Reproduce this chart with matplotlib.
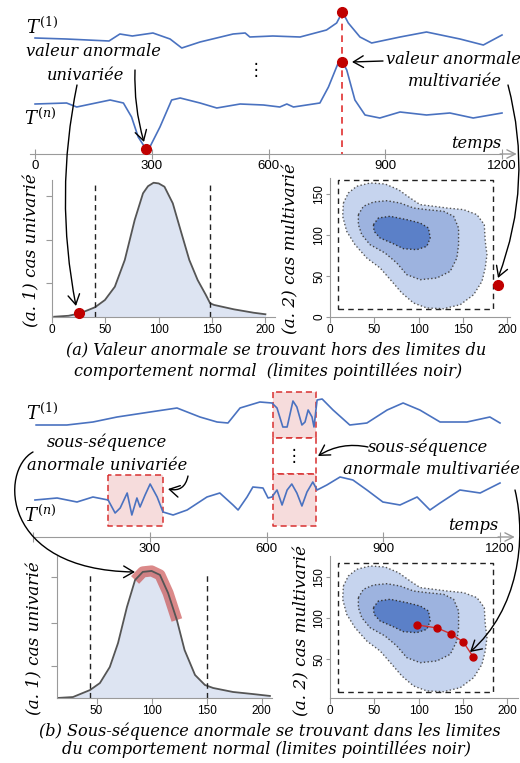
import matplotlib.pyplot as plt
from matplotlib.patches import FancyArrowPatch
from matplotlib.path import Path

W, H = 520, 763

# ---------------- (a) time series ----------------
t1_a_t = [0, 80, 190, 218, 250, 303, 347, 377, 424, 509, 540, 552, 611, 681, 749, 775, 790,
          805, 835, 865, 938, 1006, 1092, 1152, 1200]
t1_a_v = [11.6, 11.5, 11.3, 12.0, 11.8, 12.1, 11.5, 10.6, 11.2, 12.0, 12.1, 11.7, 11.8, 11.7,
          12.4, 13.1, 14.2, 13.1, 11.7, 11.1, 11.7, 12.2, 11.5, 10.9, 11.9]
tn_a_t = [0, 81, 107, 193, 227, 248, 265, 285, 295, 321, 351, 373, 424, 467, 527, 587, 629, 647,
          664, 732, 754, 779, 790, 801, 822, 848, 886, 938, 1006, 1066, 1126, 1200]
tn_a_v = [5.0, 5.1, 4.7, 5.4, 5.1, 3.7, 1.7, 0.5, 0.7, 2.7, 5.4, 5.6, 5.1, 4.6, 5.0, 4.9, 4.7,
          5.0, 4.7, 5.1, 6.7, 9.1, 9.2, 8.4, 5.4, 3.9, 3.6, 4.2, 3.9, 4.1, 3.6, 4.1]
uni_anom_t, uni_anom_v = 285, 0.5
multi_anom_t = 790
multi_anom_v = [14.2, 9.2]

time_ticks = [0, 300, 600, 900, 1200]
time_labels_a = ['0', '300', '600', '900', '1200']
time_labels_b = ['', '300', '600', '900', '1200']

# ---------------- (a) density ----------------
dens_a_x = [2, 15.5, 26.3, 40.3, 49.6, 58.9, 68.2, 77.5, 85.3, 90, 95.2, 100, 105.4, 113.2,
            120.9, 128.7, 136.5, 144.2, 148.2, 151.9, 170.5, 189.1, 200]
dens_a_y = [0.002, 0.009, 0.027, 0.071, 0.124, 0.221, 0.416, 0.708, 0.903, 0.955, 0.980, 0.975,
            0.951, 0.830, 0.623, 0.416, 0.270, 0.161, 0.100, 0.088, 0.056, 0.031, 0.020]
limits_a = [40, 148]
outlier_uni = (25, 0.03)

# contour levels (same in both multivariate panels)
outer_x = [15.1, 20.7, 30.1, 45.2, 62.1, 77.2, 90.4, 101.7, 116.8, 131.8, 150.7, 165.7, 174,
           175.1, 177, 175.1, 171.4, 162, 146.9, 128.1, 109.2, 94.2, 81, 69.7, 56.5, 41.4,
           28.2, 18.8, 14.3]
outer_y = [139, 151.2, 159.4, 163.4, 162.2, 155.3, 145.1, 137, 135, 132.9, 130.9, 124.8,
           112.6, 92.3, 76, 59.8, 43.5, 27.2, 15, 10.1, 11, 17.1, 29.3, 43.5, 59.8, 72,
           88.2, 104.5, 122.8]
mid_x = [32, 37.7, 49, 64, 79.1, 94.2, 109.2, 128.1, 139.4, 145, 145, 143.1, 135.6, 120.5,
         101.7, 86.6, 75.3, 62.1, 45.2, 35.8, 32]
mid_y = [124.8, 135, 140.2, 141.8, 139, 132.9, 130.9, 128.9, 122.8, 108.5, 88.2, 72, 55.7,
         47.6, 45.5, 51.6, 65.9, 78, 88.2, 100.4, 112.6]
inner_x = [49, 54.6, 67.8, 86.6, 101.7, 111.1, 113, 109.2, 97.9, 82.9, 69.7, 56.5, 49.7]
inner_y = [112.6, 120.7, 122.8, 118.7, 114.6, 108.5, 96.3, 86.2, 82.1, 83.3, 90.2, 96.3, 104.5]
normal_box_x = [9.4, 183.4]
normal_box_y = [10.1, 167.4]
outlier_multi = (190, 39)

# ---------------- (b) time series ----------------
t1_b_t = [8, 87, 154, 216, 301, 370, 429, 473, 501, 532, 583, 614, 627, 642, 653, 668, 678,
          691, 699, 707, 717, 722, 730, 743, 771, 814, 858, 910, 951, 994, 1046, 1115, 1174, 1200]
t1_b_v = [11.2, 11.2, 11.5, 12.0, 12.5, 12.9, 12.0, 11.5, 11.4, 12.9, 13.5, 13.4, 12.9, 11.0,
          11.0, 13.6, 13.0, 11.2, 11.5, 12.7, 12.0, 11.0, 13.7, 13.8, 12.7, 11.2, 11.4, 12.7,
          13.4, 12.7, 11.5, 11.5, 12.0, 11.4]
tn_b_t = [5, 62, 113, 154, 193, 211, 224, 242, 254, 267, 275, 288, 301, 319, 334, 360, 396,
          447, 480, 514, 527, 550, 565, 591, 604, 614, 627, 640, 653, 665, 678, 691, 704, 719,
          730, 755, 789, 822, 858, 899, 943, 987, 1020, 1046, 1097, 1149, 1200]
tn_b_v = [3.7, 3.9, 3.5, 4.0, 3.7, 2.4, 2.9, 4.4, 2.2, 3.9, 3.0, 4.2, 5.3, 4.0, 2.5, 2.2, 2.7,
          4.0, 4.4, 3.2, 2.7, 4.0, 5.0, 4.9, 3.9, 4.0, 4.7, 3.2, 4.7, 5.3, 4.4, 3.1, 4.5, 5.5,
          4.7, 5.2, 6.0, 5.7, 4.7, 3.5, 3.2, 4.0, 2.7, 3.4, 4.7, 4.4, 5.4]
uni_box_t = [193, 334]
uni_box_v = [1.1, 6.2]
multi_box_t = [617, 727]
multi_box_rows = [(9.9, 14.5), (6.3, 9.9), (1.1, 6.3)]

dens_b_x = [14, 28.5, 44, 53, 62, 69.5, 77.6, 85, 92, 100, 107.6, 115, 123, 130, 139.5,
            148.5, 156, 174, 192, 207.6]
dens_b_y = [0.0, 0.007, 0.058, 0.109, 0.226, 0.401, 0.664, 0.861, 0.920, 0.927, 0.898,
            0.766, 0.569, 0.350, 0.168, 0.095, 0.073, 0.044, 0.029, 0.015]
limits_b = [44, 150]
band_from, band_to = 7, 13

traj_x = [98.3, 120.9, 136.7, 150.3, 161.6]
traj_y = [91.5, 87.8, 80.5, 70.7, 52.4]

BLUE = '#4a72c0'
RED = '#c00000'
GRID = '#9a9a9a'
SERIF = 'DejaVu Serif'
TICKFONT = 'Liberation Sans'


def box(x0, y0, x1, y1):
    return [x0 / W, 1 - y1 / H, (x1 - x0) / W, (y1 - y0) / H]


fig = plt.figure(figsize=(W / 100, H / 100), dpi=100)
plt.rcParams['mathtext.fontset'] = 'dejavuserif'


def time_axes(rect, xlim, labels):
    ax = fig.add_axes(rect)
    ax.set_xlim(*xlim)
    ax.set_ylim(0, 15.4)
    for s in ['top', 'left', 'right']:
        ax.spines[s].set_visible(False)
    ax.spines['bottom'].set_color(GRID)
    ax.patch.set_alpha(0)
    ax.set_yticks([])
    ax.set_xticks(time_ticks, labels)
    ax.tick_params(axis='x', direction='inout', length=7, color=GRID, labelsize=9.5, pad=1)
    for lab in ax.get_xticklabels():
        lab.set_fontfamily(TICKFONT)
    ax.annotate('', xy=(1238, 0), xytext=(1195, 0), annotation_clip=False,
                arrowprops=dict(arrowstyle='->, head_length=0.6, head_width=0.3',
                                color=GRID, lw=1, shrinkA=0, shrinkB=0))
    return ax


def density_axes(rect, xlim, ylim, xticks, yticks):
    ax = fig.add_axes(rect)
    ax.set_xlim(*xlim)
    ax.set_ylim(*ylim)
    for s in ['top', 'right']:
        ax.spines[s].set_visible(False)
    for s in ['left', 'bottom']:
        ax.spines[s].set_color(GRID)
    ax.patch.set_alpha(0)
    ax.set_xticks(xticks)
    ax.set_yticks(yticks, [''] * len(yticks))
    ax.tick_params(length=4, color=GRID, labelsize=8.5, pad=1)
    for lab in ax.get_xticklabels():
        lab.set_fontfamily(TICKFONT)
    return ax


def contour_axes(rect, xlim, ylim, xticks, yticks):
    ax = density_axes(rect, xlim, ylim, xticks, yticks)
    ax.set_yticks(yticks, [str(v) for v in yticks])
    ax.tick_params(axis='y', length=3, pad=0.5)
    for lab in ax.get_yticklabels():
        lab.set_rotation(90)
        lab.set_va('center')
        lab.set_fontfamily(TICKFONT)
    ax.fill(outer_x, outer_y, facecolor='#c6d4ee', edgecolor='#555555', ls=':', lw=1)
    ax.fill(mid_x, mid_y, facecolor='#9db3df', edgecolor='#444444', ls=':', lw=1)
    ax.fill(inner_x, inner_y, facecolor='#5b80c8', edgecolor='#333333', ls=':', lw=1)
    x0, x1 = normal_box_x
    y0, y1 = normal_box_y
    ax.plot([x0, x1, x1, x0, x0], [y0, y0, y1, y1, y0], color='#222222', ls=(0, (4, 3)), lw=1)
    return ax


# ---- (a) time series
ta = time_axes(box(30, 0, 502, 154), (-13, 1200), time_labels_a)
ta.plot(t1_a_t, t1_a_v, color=BLUE, lw=1.2, clip_on=False)
ta.plot(tn_a_t, tn_a_v, color=BLUE, lw=1.2, clip_on=False)
ta.plot([multi_anom_t, multi_anom_t], [multi_anom_v[0], 0], color='#e03030', lw=1.2,
        ls=(0, (4, 3)), clip_on=False)
ta.plot([multi_anom_t] * 2, multi_anom_v, 'o', color=RED, ms=7, clip_on=False, zorder=5)
ta.plot([uni_anom_t], [uni_anom_v], 'o', color=RED, ms=7, clip_on=False, zorder=5)

# ---- (a.1)
da = density_axes(box(52, 180, 275, 317), (0, 209), (0, 1.0), [0, 50, 100, 150, 200],
                  [0.25, 0.56, 0.88])
da.fill_between(dens_a_x, dens_a_y, color='#dde4f2', lw=0)
da.plot(dens_a_x, dens_a_y, color='#555555', lw=1.3)
da.vlines(limits_a, 0, 0.96, colors='#222222', linestyles=(0, (4, 3)), lw=1)
da.plot(*outlier_uni, 'o', color=RED, ms=7, clip_on=False, zorder=5)

# ---- (a.2)
ca = contour_axes(box(330, 178, 510, 317), (0, 203), (0, 169.5), [0, 50, 100, 150, 200],
                  [0, 50, 100, 150])
ca.plot(*outlier_multi, 'o', color=RED, ms=7, clip_on=False, zorder=5)

# ---- (b) time series
for (lo, hi) in multi_box_rows:
    pass
tb = time_axes(box(33, 383, 500, 537), (0, 1200), time_labels_b)
for (lo, hi) in multi_box_rows:
    fill = 'white' if lo == 6.3 else '#f6dcdc'
    tb.fill_between(multi_box_t, lo, hi, facecolor=fill, edgecolor='#d83030',
                    ls=(0, (4, 2.5)), lw=1.1, zorder=1)
tb.fill_between(uni_box_t, uni_box_v[0], uni_box_v[1], facecolor='#f6dcdc',
                edgecolor='#d83030', ls=(0, (4, 2.5)), lw=1.1, zorder=1)
tb.plot(t1_b_t, t1_b_v, color=BLUE, lw=1.2, clip_on=False, zorder=2)
tb.plot(tn_b_t, tn_b_v, color=BLUE, lw=1.2, clip_on=False, zorder=2)

# ---- (b a.1)
db = density_axes(box(57, 556, 272, 698), (14, 209.5), (0, 1.036), [50, 100, 150, 200],
                  [0.23, 0.55, 0.88])
db.fill_between(dens_b_x, dens_b_y, color='#dde4f2', lw=0)
db.plot(dens_b_x[band_from:band_to], dens_b_y[band_from:band_to], color='#c84a4a',
        alpha=0.65, lw=8, solid_capstyle='butt')
db.plot(dens_b_x, dens_b_y, color='#555555', lw=1.3)
db.vlines(limits_b, 0, 0.91, colors='#222222', linestyles=(0, (4, 3)), lw=1)

# ---- (b a.2)
cb = contour_axes(box(330, 556, 518, 698), (0, 212), (2.4, 175.6), [0, 50, 100, 150, 200],
                  [50, 100, 150])
cb.plot(traj_x, traj_y, color='#d03030', lw=1, marker='o', ms=5, mfc=RED, mec=RED, zorder=5)

# ---------------- overlay: labels and arrows ----------------
ov = fig.add_axes([0, 0, 1, 1], zorder=10)
ov.set_xlim(0, W)
ov.set_ylim(H, 0)
ov.axis('off')

txt = dict(family=SERIF, style='italic', fontsize=11.7, ha='center', va='center')
cap = dict(family=SERIF, style='italic', fontsize=11.6, ha='center', va='center')
ylab = dict(family=SERIF, style='italic', fontsize=12.2, ha='center', va='center', rotation=90)

ov.text(42, 27, r'$T^{(1)}$', fontsize=13, ha='center', va='center')
ov.text(40, 118, r'$T^{(n)}$', fontsize=13, ha='center', va='center')
ov.text(42, 413, r'$T^{(1)}$', fontsize=13, ha='center', va='center')
ov.text(40, 515, r'$T^{(n)}$', fontsize=13, ha='center', va='center')
ov.text(476, 143, 'temps', **txt)
ov.text(473, 526, 'temps', **txt)

ov.text(93, 51, 'valeur anormale', **txt)
ov.text(86, 75, 'univariée', **txt)
ov.text(386, 60, 'valeur anormale', **{**txt, 'ha': 'left'})
ov.text(455, 81, 'multivariée', **txt)
ov.text(256, 70, '⋮', fontsize=12, ha='center', va='center', family='DejaVu Sans')
ov.text(294, 456, '⋮', fontsize=12, ha='center', va='center', family='DejaVu Sans')

ov.text(107, 442, 'sous-séquence', **txt)
ov.text(107, 465, 'anormale univariée', **txt)
ov.text(428, 447, 'sous-séquence', **txt)
ov.text(431, 469, 'anormale multivariée', **txt)

ov.text(276, 350, '(a) Valeur anormale se trouvant hors des limites du', **cap)
ov.text(268, 371, 'comportement normal  (limites pointillées noir)', **cap)
ov.text(270, 731, '(b) Sous-séquence anormale se trouvant dans les limites', **cap)
ov.text(266, 749, 'du comportement normal (limites pointillées noir)', **cap)

ov.text(32, 250, '(a. 1) cas univarié', **ylab)
ov.text(291, 248, '(a. 2) cas multivarié', **ylab)
ov.text(35, 638, '(a. 1) cas univarié', **ylab)
ov.text(302, 630, '(a. 2) cas multivarié', **ylab)

head = '->, head_length=0.6, head_width=0.35'


def arrow(p0, p1, rad):
    ov.add_patch(FancyArrowPatch(p0, p1, connectionstyle=f'arc3,rad={rad}', arrowstyle=head,
                                 mutation_scale=12, color='black', lw=1, shrinkA=0, shrinkB=0))


def bezier(pts):
    path = Path(pts, [Path.MOVETO, Path.CURVE4, Path.CURVE4, Path.CURVE4])
    ov.add_patch(FancyArrowPatch(path=path, arrowstyle=head, mutation_scale=12,
                                 color='black', lw=1, transform=ov.transData))


arrow((135, 70), (144, 142), 0.08)
arrow((77, 85), (76, 306), 0.1)
arrow((508, 85), (498, 278), -0.16)
arrow((383, 61), (352, 62), 0.0)
arrow((188, 476), (168, 489), -0.5)
arrow((368, 447), (318, 456), 0.2)
bezier([(33, 452), (0, 470), (0, 570), (135, 572)])
bezier([(515, 490), (527, 540), (518, 610), (470, 652)])

fig.savefig('out.png', dpi=100)
